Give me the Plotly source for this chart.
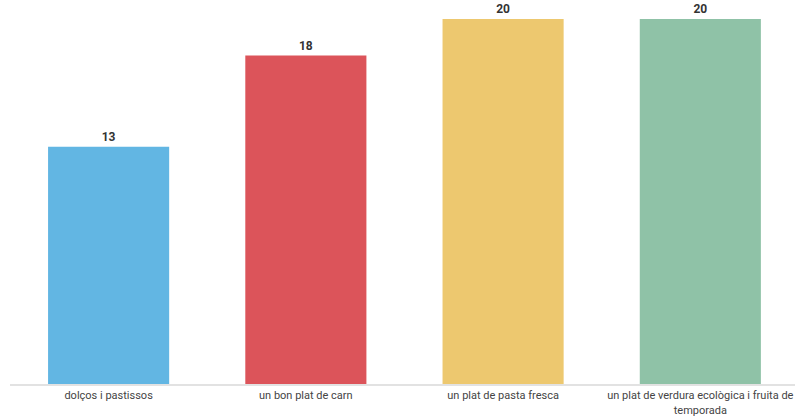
import plotly.graph_objects as go

categories = ["dolços i pastissos", "un bon plat de carn", "un plat de pasta fresca",
              "un plat de verdura ecològica i fruita de<br>temporada"]
values = [13, 18, 20, 20]
colors = ["#62b6e3", "#dc545a", "#edc86f", "#8fc2a7"]

fig = go.Figure(go.Bar(
    x=categories, y=values,
    marker=dict(color=colors, line=dict(width=0)),
    text=[str(v) for v in values], textposition="outside",
    textfont=dict(family="Roboto", size=12, color="#333333", weight="bold"),
    cliponaxis=False,
))
fig.update_layout(
    width=795, height=417,
    margin=dict(l=10, r=0, t=19, b=33),
    paper_bgcolor="white", plot_bgcolor="white",
    bargap=0.386, showlegend=False,
    font=dict(family="Roboto"),
)
fig.update_xaxes(range=[-0.5, 3.48], showline=True, linecolor="#e2e2e2", linewidth=2,
                 ticks="", tickfont=dict(family="Roboto", size=11, color="#444444"),
                 showgrid=False, automargin=False)
fig.update_yaxes(range=[0, 20], visible=False, showgrid=False, automargin=False)
fig.write_html("out.html", config={"displayModeBar": False},
               post_script="document.body.style.margin='0';document.body.style.overflow='hidden';")
